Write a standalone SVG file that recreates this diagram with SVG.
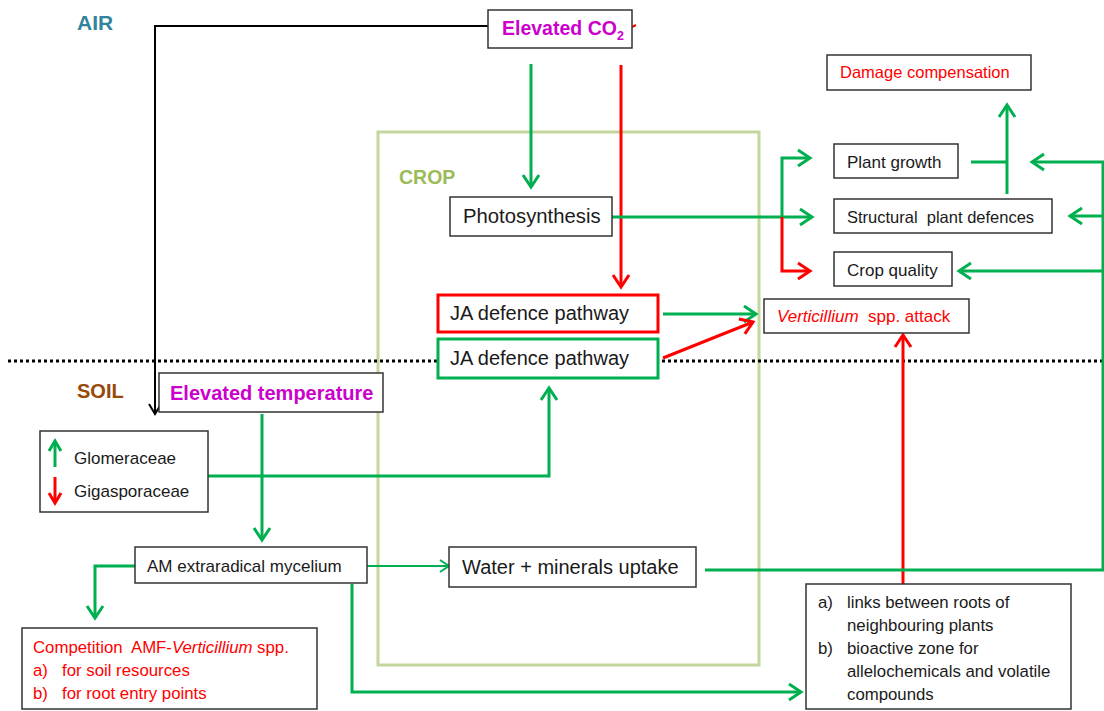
<svg xmlns="http://www.w3.org/2000/svg" width="1104" height="711" viewBox="0 0 1104 711">
<style>
text{font-family:"Liberation Sans",Arial,sans-serif;fill:#1a1a1a}
.box{fill:#fff;stroke:#333;stroke-width:1.5}
.g{stroke:#00B050;stroke-width:3;fill:none}
.gt{stroke:#00B050;stroke-width:2;fill:none}
.r{stroke:#FF0000;stroke-width:3;fill:none}
.k{stroke:#000;stroke-width:2;fill:none}
.red{fill:#FF0000}
.mag{fill:#CC00CC;font-weight:bold}
</style>
<defs>
<marker id="ag" markerUnits="userSpaceOnUse" markerWidth="20" markerHeight="20" viewBox="0 0 20 20" refX="17" refY="10" orient="auto"><path d="M5,2 L17,10 L5,18" fill="none" stroke="#00B050" stroke-width="3"/></marker>
<marker id="agt" markerUnits="userSpaceOnUse" markerWidth="20" markerHeight="20" viewBox="0 0 20 20" refX="17" refY="10" orient="auto"><path d="M8,4 L17,10 L8,16" fill="none" stroke="#00B050" stroke-width="2"/></marker>
<marker id="ar" markerUnits="userSpaceOnUse" markerWidth="20" markerHeight="20" viewBox="0 0 20 20" refX="17" refY="10" orient="auto"><path d="M5,2 L17,10 L5,18" fill="none" stroke="#FF0000" stroke-width="3"/></marker>
<marker id="ak" markerUnits="userSpaceOnUse" markerWidth="20" markerHeight="20" viewBox="0 0 20 20" refX="17" refY="10" orient="auto"><path d="M7,4 L17,10 L7,16" fill="none" stroke="#000" stroke-width="2"/></marker>
</defs>
<rect width="1104" height="711" fill="#fff"/>

<g id="labels">
<text x="77" y="30" font-size="21" font-weight="bold" style="fill:#31849B">AIR</text>
<text x="77" y="398" font-size="20" font-weight="bold" style="fill:#984807">SOIL</text>
</g>

<g id="crop">
<rect x="378" y="132" width="381" height="533" fill="none" stroke="#C3D69B" stroke-width="3"/>
<text x="399" y="184" font-size="19.5" font-weight="bold" style="fill:#9BBB59">CROP</text>
</g>

<line id="soil-line" x1="8" y1="361" x2="1104" y2="361" stroke="#000" stroke-width="3" stroke-dasharray="3 3"/>

<g id="connectors">
<path class="k" d="M488,26 H155 V414" marker-end="url(#ak)"/>
<line x1="632" y1="27" x2="636" y2="25" stroke="#FF0000" stroke-width="2"/>
<line class="g" x1="531" y1="64" x2="531" y2="187" marker-end="url(#ag)"/>
<line class="r" x1="621" y1="65" x2="621" y2="287" marker-end="url(#ar)"/>
<line class="g" x1="612" y1="217" x2="812" y2="217" marker-end="url(#ag)"/>
<path class="g" d="M782,217 V158 H810" marker-end="url(#ag)"/>
<path class="r" d="M782,217 V271 H810" marker-end="url(#ar)"/>
<path class="g" d="M971,162 H1007"/>
<line class="g" x1="1007" y1="194" x2="1007" y2="105" marker-end="url(#ag)"/>
<path class="g" d="M1104,162 H1032" marker-end="url(#ag)"/>
<path class="g" d="M1104,216 H1070" marker-end="url(#ag)"/>
<path class="g" d="M1104,271 H959" marker-end="url(#ag)"/>
<line class="g" x1="1103" y1="161" x2="1103" y2="571"/>
<line class="g" x1="663" y1="314" x2="756" y2="314" marker-end="url(#ag)"/>
<line class="r" x1="663" y1="358" x2="753" y2="322" marker-end="url(#ar)"/>
<line class="r" x1="903" y1="584" x2="903" y2="335" marker-end="url(#ar)"/>
<path class="g" d="M208,476 H549 V388" marker-end="url(#ag)"/>
<line class="g" x1="262" y1="414" x2="262" y2="540" marker-end="url(#ag)"/>
<path class="g" d="M135,566 H95 V618" marker-end="url(#ag)"/>
<line class="gt" x1="367" y1="566" x2="449" y2="566" marker-end="url(#agt)"/>
<path class="g" d="M352,584 V692 H801" marker-end="url(#ag)"/>
<line class="g" x1="705" y1="570" x2="1104" y2="570"/>
</g>

<g id="elevated-co2">
<rect class="box" x="488" y="10" width="144" height="38"/>
<text x="502" y="35" font-size="19.5" class="mag">Elevated CO<tspan font-size="12.5" dy="5">2</tspan></text>
</g>

<g id="damage-compensation">
<rect class="box" x="827" y="55" width="204" height="35"/>
<text x="840" y="78" font-size="16.5" class="red">Damage compensation</text>
</g>

<g id="plant-growth">
<rect class="box" x="834" y="144" width="124" height="34"/>
<text x="847" y="168" font-size="17">Plant growth</text>
</g>

<g id="structural-defences">
<rect class="box" x="834" y="199" width="218" height="34"/>
<text x="847" y="223" font-size="16.5" xml:space="preserve">Structural  plant defences</text>
</g>

<g id="crop-quality">
<rect class="box" x="834" y="252" width="118" height="34"/>
<text x="847" y="276" font-size="17">Crop quality</text>
</g>

<g id="photosynthesis">
<rect class="box" x="450" y="197" width="162" height="39"/>
<text x="463" y="223" font-size="20.3">Photosynthesis</text>
</g>

<g id="ja-red">
<rect x="438" y="295" width="220" height="37" fill="#fff" stroke="#FF0000" stroke-width="3"/>
<text x="450" y="320" font-size="20">JA defence pathway</text>
</g>

<g id="ja-green">
<rect x="438" y="339" width="220" height="39" fill="#fff" stroke="#00B050" stroke-width="3"/>
<text x="450" y="365" font-size="20">JA defence pathway</text>
</g>

<g id="verticillium-attack">
<rect class="box" x="764" y="299" width="205" height="34"/>
<text x="777" y="322" font-size="17" class="red" xml:space="preserve"><tspan font-style="italic">Verticillium</tspan>  spp. attack</text>
</g>

<g id="elevated-temperature">
<rect class="box" x="159" y="373" width="224" height="39"/>
<text x="170" y="400" font-size="20" class="mag">Elevated temperature</text>
</g>

<g id="amf-families">
<rect class="box" x="40" y="431" width="168" height="81"/>
<line x1="55" y1="467" x2="55" y2="443" stroke="#00B050" stroke-width="3"/>
<path d="M49,451 L55,441 L61,451" fill="none" stroke="#00B050" stroke-width="3"/>
<line x1="55" y1="477" x2="55" y2="501" stroke="#FF0000" stroke-width="3"/>
<path d="M49,493 L55,503 L61,493" fill="none" stroke="#FF0000" stroke-width="3"/>
<text x="74" y="464" font-size="17">Glomeraceae</text>
<text x="74" y="497" font-size="17">Gigasporaceae</text>
</g>

<g id="am-mycelium">
<rect class="box" x="135" y="547" width="232" height="36"/>
<text x="147" y="572" font-size="17">AM extraradical mycelium</text>
</g>

<g id="water-uptake">
<rect class="box" x="449" y="547" width="247" height="40"/>
<text x="462" y="574" font-size="20">Water + minerals uptake</text>
</g>

<g id="competition">
<rect class="box" x="22" y="628" width="295" height="81"/>
<text x="33" y="653" font-size="16.8" class="red" xml:space="preserve">Competition  AMF-<tspan font-style="italic">Verticillium</tspan> spp.</text>
<text x="33" y="676" font-size="16.8" class="red">a)</text>
<text x="62" y="676" font-size="16.8" class="red">for soil resources</text>
<text x="33" y="699" font-size="16.8" class="red">b)</text>
<text x="62" y="699" font-size="16.8" class="red">for root entry points</text>
</g>

<g id="mycelium-roles">
<rect class="box" x="806" y="584" width="265" height="125"/>
<text x="818" y="608" font-size="16.8">a)</text>
<text x="847" y="608" font-size="16.8">links between roots of</text>
<text x="847" y="631" font-size="16.8">neighbouring plants</text>
<text x="818" y="654" font-size="16.8">b)</text>
<text x="847" y="654" font-size="16.8">bioactive zone for</text>
<text x="847" y="677" font-size="16.8">allelochemicals and volatile</text>
<text x="847" y="700" font-size="16.8">compounds</text>
</g>
</svg>
